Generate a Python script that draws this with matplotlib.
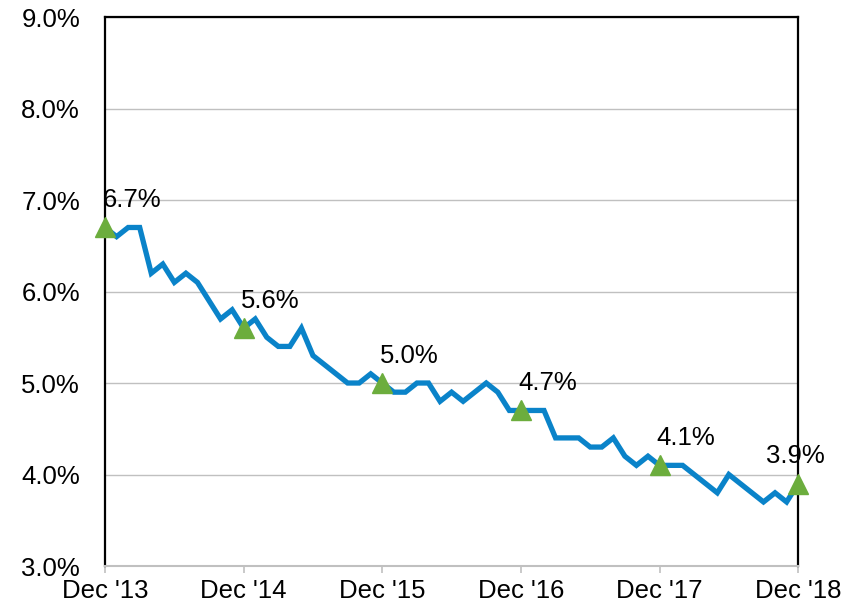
import numpy as np
import matplotlib.pyplot as plt

plt.rcParams['font.family'] = ['Liberation Sans', 'DejaVu Sans']

# Tasa mensual (%), dic 2013 - dic 2018
tasa_2013 = [6.7]
tasa_2014 = [6.6, 6.7, 6.7, 6.2, 6.3, 6.1, 6.2, 6.1, 5.9, 5.7, 5.8, 5.6]
tasa_2015 = [5.7, 5.5, 5.4, 5.4, 5.6, 5.3, 5.2, 5.1, 5.0, 5.0, 5.1, 5.0]
tasa_2016 = [4.9, 4.9, 5.0, 5.0, 4.8, 4.9, 4.8, 4.9, 5.0, 4.9, 4.7, 4.7]
tasa_2017 = [4.7, 4.7, 4.4, 4.4, 4.4, 4.3, 4.3, 4.4, 4.2, 4.1, 4.2, 4.1]
tasa_2018 = [4.1, 4.1, 4.0, 3.9, 3.8, 4.0, 3.9, 3.8, 3.7, 3.8, 3.7, 3.9]

etiquetas_x = ["Dec '13", "Dec '14", "Dec '15", "Dec '16", "Dec '17", "Dec '18"]

tasa = np.array(tasa_2013 + tasa_2014 + tasa_2015 + tasa_2016 + tasa_2017 + tasa_2018)
meses = np.arange(len(tasa))
idx_dic = meses[::12]

fig = plt.figure(figsize=(8.61, 6.09), dpi=100)
ax = fig.add_axes([0.122, 0.0706, 0.805, 0.9014])

ax.plot(meses, tasa, color='#0A83C9', linewidth=3.8, solid_joinstyle='miter',
        clip_on=False, zorder=3)
ax.plot(idx_dic, tasa[idx_dic], linestyle='none', marker='^', markersize=15,
        color='#6CAD3D', clip_on=False, zorder=4)

for i, m in enumerate(idx_dic):
    ultimo = i == len(idx_dic) - 1
    ax.annotate(f'{tasa[m]:.1f}%', (m, tasa[m]),
                xytext=(-2, 11), textcoords='offset points',
                ha='center' if ultimo else 'left', va='bottom', fontsize=18.5)

ax.set_xlim(0, 60)
ax.set_ylim(3.0, 9.0)
ax.set_yticks(np.arange(3.0, 9.01, 1.0))
ax.set_yticklabels([f'{v:.1f}%' for v in np.arange(3.0, 9.01, 1.0)])
ax.set_xticks(idx_dic)
ax.set_xticklabels(etiquetas_x)

ax.grid(axis='y', color='#C0C0C0', linewidth=1)
ax.set_axisbelow(True)

for lado in ['left', 'top', 'right']:
    ax.spines[lado].set_color('black')
    ax.spines[lado].set_linewidth(1.6)
ax.spines['bottom'].set_color('#C0C0C0')
ax.spines['bottom'].set_linewidth(1.5)

ax.tick_params(axis='y', length=0, pad=18, labelsize=18.5)
ax.tick_params(axis='x', length=5, width=1.2, color='#C0C0C0', pad=4, labelsize=18.5)

plt.savefig('out.png', dpi=100)
